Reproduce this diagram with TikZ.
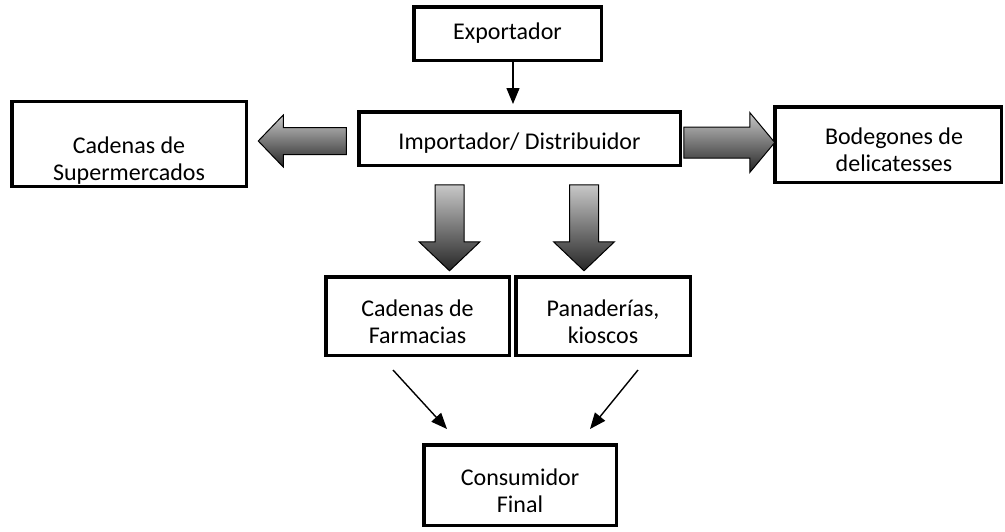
\documentclass[tikz,border=0pt]{standalone}
\usepackage{fontspec}
\setmainfont{Carlito}
\usepackage{tikz}
\usetikzlibrary{positioning,arrows.meta,calc}
\definecolor{arrLight}{HTML}{C8C8C8}
\definecolor{arrDark}{HTML}{262626}
\newcommand{\lowr}[1]{\rule{0pt}{#1}}
\tikzset{
  chainbox/.style={draw, line width=3.5pt, align=center, inner sep=2pt,
                   font=\fontsize{24}{27}\selectfont},
  thinarrow/.style={-{Triangle[width=13pt,length=16pt]}, line width=1.4pt},
  blockarrow/.style={draw=black, line width=1pt, line join=miter,
                     top color=arrLight, bottom color=arrDark},
}
\begin{document}
\begin{tikzpicture}[x=1pt, y=-1pt]
\useasboundingbox (0,0) rectangle (1005,531);
%% Nodes
\node[chainbox, minimum width=187.5pt, minimum height=53.5pt] (exp) at (507.5,33.5) {Exportador};
\node[chainbox, minimum width=321.5pt, minimum height=53.5pt] (imp) at (519.5,138.5) {\lowr{26pt}Importador/ Distribuidor};
\node[chainbox, minimum width=234.5pt, minimum height=78.5pt] (sup) at (129,144) {\lowr{50pt}Cadenas de\\Supermercados};
\node[chainbox, minimum width=226.5pt, minimum height=75.5pt] (bod) at (888,144.5) {\lowr{28pt}\hspace{12pt}Bodegones de\\\hspace{12pt}delicatesses};
\node[chainbox, minimum width=183.5pt, minimum height=78.5pt] (far) at (417.5,316) {\lowr{28pt}Cadenas de\\Farmacias};
\node[chainbox, minimum width=174.5pt, minimum height=78.5pt] (pan) at (603,316) {\lowr{28pt}Panaderías,\\kioscos};
\node[chainbox, minimum width=192.5pt, minimum height=80.5pt] (con) at (520,485) {\lowr{28pt}Consumidor\\Final};
%% Thin arrows
\draw[thinarrow, shorten >=6pt] ([xshift=5.5pt]exp.south) -- ([xshift=-6.5pt]imp.north);
\draw[thinarrow] ($(far.south)+(-24.5,13)$) -- ($(con.north)+(-73,-14)$);
\draw[thinarrow] ($(pan.south)+(35,13)$) -- ($(con.north)+(70,-14)$);
%% Block arrows
\path[blockarrow] ($(imp.west)+(-10.75,2.5)$) -- ++(0,-13.5) -- ++(-63,0) -- ++(0,-12.5)
  -- ++(-25,26) -- ++(25,26) -- ++(0,-12.5) -- ++(63,0) -- cycle;
\path[blockarrow] ($(imp.east)+(1.75,4)$) -- ++(0,-15.5) -- ++(66,0) -- ++(0,-14.5)
  -- ++(25,30) -- ++(-25,30) -- ++(0,-14.5) -- ++(-66,0) -- cycle;
\path[blockarrow] ($(imp.south)+(-70,17.75)$) -- ++(-14.5,0) -- ++(0,57) -- ++(-16,0)
  -- ++(30.5,29) -- ++(30.5,-29) -- ++(-16,0) -- ++(0,-57) -- cycle;
\path[blockarrow] ($(imp.south)+(64.5,17.75)$) -- ++(-14.5,0) -- ++(0,57) -- ++(-16,0)
  -- ++(30.5,29) -- ++(30.5,-29) -- ++(-16,0) -- ++(0,-57) -- cycle;
\end{tikzpicture}
\end{document}
